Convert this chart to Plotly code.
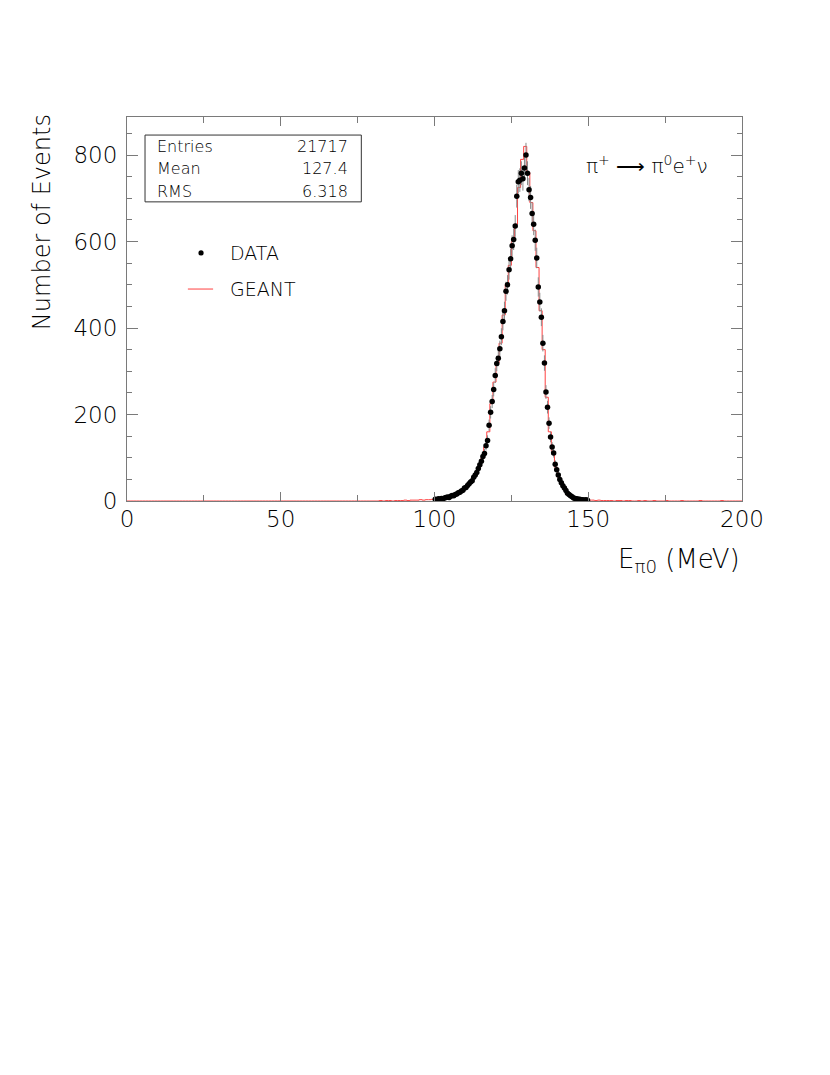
import numpy as np
import plotly.graph_objects as go

# ---------------- data ----------------
# DATA histogram: 0.5 MeV bins, first bin starts at 100 MeV
data_bin_width = 0.5
data_first_edge = 100.0
data_counts = [
    4, 3, 5, 4, 6, 5, 7, 8, 9, 8,
    11, 13, 12, 15, 16, 19, 20, 23, 25, 30,
    31, 36, 40, 44, 47, 55, 60, 66, 75, 84,
    92, 103, 110, 128, 140, 175, 205, 230, 258, 290,
    318, 330, 352, 380, 415, 440, 485, 500, 535, 560,
    590, 605, 636, 705, 738, 742, 758, 745, 770, 800,
    758, 720, 702, 665, 640, 603, 562, 495, 460, 425,
    365, 319, 252, 217, 180, 148, 125, 111, 85, 72,
    60, 50, 42, 35, 30, 24, 18, 15, 12, 10,
    7, 6, 5, 4, 4, 3, 3, 2, 3, 2,
]

# GEANT histogram: 1 MeV bins from 80 to 200 MeV (zero elsewhere)
geant_bin_width = 1.0
geant_first_edge = 80.0
geant_counts = [
    0, 0, 1, 0, 1, 1, 0, 1, 1, 1, 2, 1, 2, 2, 2, 3, 2, 3, 3, 4,          # 80-99
    4, 5, 6, 7, 9, 12, 14, 17, 22, 27,                                    # 100-109
    33, 41, 52, 63, 78, 98, 125, 160, 225, 275,                           # 110-119
    320, 365, 430, 500, 545, 600, 640, 725, 790, 820,                     # 120-129
    760, 690, 625, 540, 440, 350, 240, 160, 115, 78,                      # 130-139
    55, 38, 26, 17, 11, 7, 5, 4, 3, 2,                                    # 140-149
    2, 2, 1, 2, 1, 1, 1, 1, 0, 1, 1, 0, 1, 1, 0, 0, 1, 0, 1, 0,          # 150-169
    0, 1, 0, 0, 0, 1, 0, 0, 0, 0, 1, 0, 0, 0, 0, 0, 1, 0, 0, 0,          # 170-189
    0, 0, 0, 1, 0, 0, 0, 0, 0, 0,                                         # 190-199
]

x_range = [0, 200]
y_range = [0, 888]
x_tick_vals = [0, 50, 100, 150, 200]
y_tick_vals = [0, 200, 400, 600, 800]

stats_labels = ["Entries", "Mean", "RMS"]
stats_values = ["21717", "127.4", "6.318"]

# ---------------- derived ----------------
data_counts = np.array(data_counts, dtype=float)
data_x = data_first_edge + data_bin_width * (np.arange(len(data_counts)) + 0.5)
data_err = np.sqrt(data_counts)

full_edges = np.arange(x_range[0], x_range[1] + geant_bin_width, geant_bin_width)
geant_full = np.zeros(len(full_edges) - 1)
i0 = int((geant_first_edge - x_range[0]) / geant_bin_width)
geant_full[i0:i0 + len(geant_counts)] = geant_counts
geant_x = full_edges
geant_y = np.append(geant_full, geant_full[-1])

FONT = "DejaVu Sans"
RED = "#ff4040"

fig = go.Figure()

fig.add_trace(go.Scatter(
    x=geant_x, y=geant_y, mode="lines", line_shape="hv",
    line=dict(color=RED, width=1), name="GEANT", showlegend=False,
))

fig.add_trace(go.Scatter(
    x=data_x, y=data_counts, mode="markers",
    marker=dict(color="black", size=5.5),
    error_y=dict(type="data", array=data_err, color="#8a8a8a", thickness=1, width=0),
    name="DATA", showlegend=False,
))

axis_common = dict(
    showline=True, linecolor="#7a7a7a", linewidth=1, mirror="ticks",
    ticks="inside", tickcolor="#7a7a7a", showgrid=False, zeroline=False,
    tickfont=dict(family=FONT, size=23, color="black", weight=200),
)

fig.update_xaxes(
    range=x_range, tickvals=x_tick_vals, ticklen=9,
    minor=dict(dtick=25, ticks="inside", ticklen=6, tickcolor="#7a7a7a"),
    ticklabelstandoff=-3,
    **axis_common,
)
fig.update_yaxes(
    range=y_range, tickvals=y_tick_vals, ticklen=11,
    minor=dict(dtick=50, ticks="inside", ticklen=5, tickcolor="#7a7a7a"),
    ticklabelstandoff=4,
    **axis_common,
)

# page body has an 8px margin: compensate so the frame sits at 127..742 x 117..501
L, R, T, B = 119, 96, 109, 582
fig.update_layout(
    width=830, height=1075,
    margin=dict(l=L, r=R, t=T, b=B),
    plot_bgcolor="white", paper_bgcolor="white",
    font=dict(family=FONT, color="black"),
)

annotations = []
# axis titles
annotations.append(dict(
    text="Number of Events", textangle=-90, xref="paper", yref="paper",
    x=-0.138, y=1.013, xanchor="center", yanchor="top", showarrow=False,
    font=dict(family=FONT, size=24, weight=200),
))
annotations.append(dict(
    text="E<sub>π0</sub> (MeV)", xref="paper", yref="paper",
    x=1.0, y=-0.156, xanchor="right", yanchor="middle", showarrow=False,
    font=dict(family=FONT, size=26, weight=200),
))
# stats box text
row_y = [0.922, 0.865, 0.807]
for lab, val, yy in zip(stats_labels, stats_values, row_y):
    annotations.append(dict(text=lab, xref="paper", yref="paper", x=0.0456, y=yy,
                            xanchor="left", yanchor="middle", showarrow=False,
                            font=dict(family=FONT, size=16, weight=200)))
    annotations.append(dict(text=val, xref="paper", yref="paper", x=0.363, y=yy,
                            xanchor="right", yanchor="middle", showarrow=False,
                            font=dict(family=FONT, size=16, weight=200)))
# decay formula
annotations.append(dict(
    text="π<sup>+</sup> ⟶ π<sup>0</sup>e<sup>+</sup>ν",
    xref="paper", yref="paper", x=0.845, y=0.875, xanchor="center", yanchor="middle",
    showarrow=False, font=dict(family=FONT, size=20, weight=200),
))
# legend text
annotations.append(dict(text="DATA", xref="paper", yref="paper", x=0.164, y=0.646,
                        xanchor="left", yanchor="middle", showarrow=False,
                        font=dict(family=FONT, size=19, weight=200)))
annotations.append(dict(text="GEANT", xref="paper", yref="paper", x=0.164, y=0.552,
                        xanchor="left", yanchor="middle", showarrow=False,
                        font=dict(family=FONT, size=19, weight=200)))
fig.update_layout(annotations=annotations)

shapes = [
    dict(type="rect", xref="paper", yref="paper", x0=0.0293, x1=0.381, y0=0.779, y1=0.953,
         line=dict(color="#333333", width=1), fillcolor="white", layer="below"),
    dict(type="line", xref="paper", yref="paper", x0=0.099, x1=0.140, y0=0.552, y1=0.552,
         line=dict(color=RED, width=1)),
    dict(type="circle", xref="paper", yref="paper", x0=0.1204 - 0.0042, x1=0.1204 + 0.0042,
         y0=0.646 - 0.0068, y1=0.646 + 0.0068, fillcolor="black", line=dict(color="black", width=0)),
]
fig.update_layout(shapes=shapes)

fig.write_html("out.html")
